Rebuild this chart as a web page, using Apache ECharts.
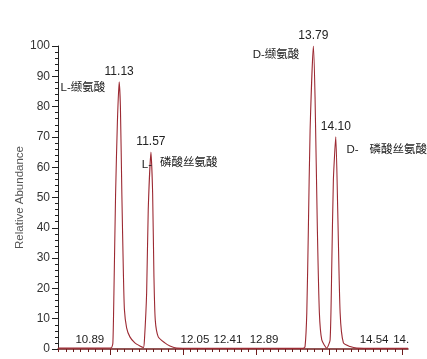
<!DOCTYPE html>
<html><head><meta charset="utf-8">
<script src="https://cdn.jsdelivr.net/npm/echarts@6/dist/echarts.min.js"></script>
<style>html,body{margin:0;padding:0;background:#fff}#c{width:427px;height:359px}</style>
</head><body><div id="c"></div>
<script>
// retention time (min) and relative abundance (%)
const times = [10.29, 10.6, 10.9, 11.02, 11.041, 11.055, 11.078, 11.103, 11.127, 11.144, 11.164, 11.185, 11.199, 11.229, 11.274, 11.342, 11.411, 11.459,
  11.473, 11.503, 11.525, 11.562, 11.585, 11.603, 11.621, 11.662, 11.753, 11.822, 11.914, 12.5, 13.2, 13.644,
  13.671, 13.695, 13.716, 13.74, 13.785, 13.808, 13.84, 13.867, 13.9, 13.968,
  14.014, 14.037, 14.059, 14.092, 14.119, 14.151, 14.196, 14.288, 14.379, 15.08];
const abundance = [0.3, 0.3, 0.3, 0.4, 2, 18, 51, 75, 88.2, 80, 51, 25, 13, 7, 4, 2, 1, 0.5,
  3, 18.5, 46, 65, 51.5, 24, 9.6, 4, 2, 1, 0.3, 0.2, 0.2, 0.2,
  0.8, 12, 39, 72, 100, 83, 39, 12, 3, 0.3,
  3, 28, 56, 70, 45, 12, 2, 0.8, 0.3, 0.2];

const peakLabels = ['11.13', '11.57', '13.79', '14.10'];
const peakTimes = [11.127, 11.562, 13.785, 14.092];
const peakHeights = [88.2, 65, 100, 70];

const smallLabels = ['10.89', '12.05', '12.41', '12.89', '14.54', '14.'];
const smallLabelTimes = [10.726, 12.164, 12.616, 13.11, 14.616, 14.986];
const smallLabelLevel = 3;

const compoundNames = ['L-缬氨酸', 'L-', '磷酸丝氨酸', 'D-缬氨酸', 'D-', '磷酸丝氨酸'];
const compoundTimes = [10.63, 11.507, 12.08, 13.274, 14.32, 14.945];
const compoundLevels = [86.1, 60.9, 61.4, 97.0, 65.7, 65.7];

const yTicks = [0, 10, 20, 30, 40, 50, 60, 70, 80, 90, 100];
const xMajorTicks = [11, 12, 13, 14, 15];
const xMinorTicks = [];
for (let v = 10.3; v <= 15.08; v += 0.1) xMinorTicks.push(Math.round(v * 10) / 10);

const numFont = "'Liberation Sans',Arial,sans-serif";
const cjkFont = "'Liberation Sans','Noto Sans CJK SC',sans-serif";

const marks = [];
peakLabels.forEach((t, i) => marks.push({coord: [peakTimes[i], peakHeights[i]], label: {formatter: t, offset: [0, -10], fontFamily: numFont, fontSize: 12}}));
smallLabels.forEach((t, i) => marks.push({coord: [smallLabelTimes[i], smallLabelLevel], label: {formatter: t, fontFamily: numFont, fontSize: 11.5}}));
compoundNames.forEach((t, i) => marks.push({coord: [compoundTimes[i], compoundLevels[i]], label: {formatter: t, fontFamily: cjkFont, fontSize: 11.5}}));

const chart = echarts.init(document.getElementById('c'), null, {renderer: 'canvas'});
const axisCol = '#6e1c1c';
chart.setOption({
  animation: false,
  backgroundColor: '#fff',
  grid: {left: 58, right: 19, top: 46, bottom: 10},
  xAxis: [{
    type: 'value', min: 10.29, max: 15.08,
    axisLine: {show: true, lineStyle: {color: axisCol, width: 1.5}},
    axisTick: {show: true, customValues: xMinorTicks, length: 3, lineStyle: {color: axisCol}},
    axisLabel: {show: false}, splitLine: {show: false}
  }, {
    type: 'value', min: 10.29, max: 15.08, position: 'bottom',
    axisLine: {show: false},
    axisTick: {show: true, customValues: xMajorTicks, length: 6, lineStyle: {color: axisCol}},
    axisLabel: {show: false}, splitLine: {show: false}
  }],
  yAxis: {
    type: 'value', min: 0, max: 100, interval: 10,
    name: 'Relative Abundance', nameLocation: 'middle', nameRotate: 90, nameGap: 32,
    nameMoveOverlap: false,
    nameTextStyle: {color: '#555', fontSize: 11.5, fontFamily: "'Liberation Sans',Arial,sans-serif"},
    axisLine: {show: true, lineStyle: {color: '#222', width: 1}},
    axisTick: {show: true, length: 6, lineStyle: {color: '#222'}},
    minorTick: {show: true, splitNumber: 5, length: 3, lineStyle: {color: '#222'}},
    axisLabel: {color: '#333', fontSize: 12, fontFamily: numFont, margin: 8,
      customValues: yTicks},
    splitLine: {show: false}
  },
  series: [{
    type: 'line', xAxisIndex: 0,
    data: times.map((t, i) => [t, abundance[i]]),
    showSymbol: false, smooth: 0.2,
    lineStyle: {color: '#9c2a33', width: 1.1},
    markPoint: {
      symbol: 'circle', symbolSize: 1,
      itemStyle: {color: 'rgba(0,0,0,0)'},
      label: {show: true, position: 'inside', color: '#222'},
      data: marks
    }
  }]
});
</script></body></html>
